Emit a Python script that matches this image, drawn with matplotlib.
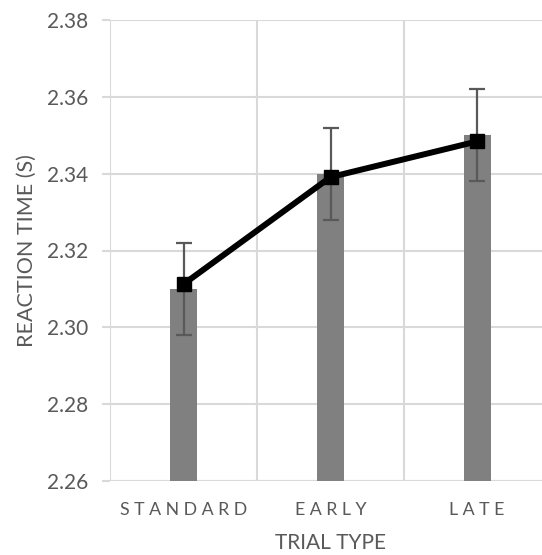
import matplotlib
matplotlib.use('agg')
import matplotlib.pyplot as plt
import numpy as np

#%% data
trial_types = ['STANDARD', 'EARLY', 'LATE']
bar_rt = [2.310, 2.340, 2.350]
bar_err = [0.012, 0.012, 0.012]
line_rt = [2.3113, 2.3391, 2.3484]
y_ticks = [2.26, 2.28, 2.30, 2.32, 2.34, 2.36, 2.38]

#%% styling
plt.rcParams['font.family'] = ['Lato', 'DejaVu Sans']
txt_col = '#595959'
grid_col = '#d9d9d9'

fig = plt.figure(figsize=(5.42, 5.55), dpi=100)
# the plot area runs a little past the right edge of the picture
ax = fig.add_axes([110.5/542, 74/555, 440/542, 461/555])

x = np.arange(len(trial_types))
ax.bar(x, [v - 2.26 for v in bar_rt], bottom=2.26, width=0.182,
       color='#808080', zorder=2)
ax.errorbar(x, bar_rt, yerr=bar_err, fmt='none', ecolor='#595959',
            elinewidth=1.6, capsize=5.5, capthick=1.6, zorder=3)
ax.plot(x, line_rt, color='black', lw=4.3, marker='s', markersize=10,
        solid_joinstyle='round', zorder=4)

ax.set_xlim(-0.5, 2.5)
ax.set_ylim(2.26, 2.38)
ax.set_yticks(y_ticks)
ax.set_yticklabels(['%.2f' % t for t in y_ticks])
ax.set_xticks(x)
ax.set_xticklabels([' '.join(t) for t in trial_types])

# gridlines: horizontal at ticks, vertical at category boundaries
ax.grid(axis='y', color=grid_col, lw=1.5, zorder=0)
for b in [-0.5, 0.5, 1.5, 2.5]:
    ax.axvline(b, color=grid_col, lw=1.5, zorder=0)

for s in ax.spines.values():
    s.set_visible(False)
ax.axhline(2.26, color=grid_col, lw=1.5, zorder=1)

ax.tick_params(axis='y', length=6, width=1.5, color=grid_col, pad=10,
               labelsize=15, labelcolor=txt_col)
ax.tick_params(axis='x', length=0, pad=15, labelsize=12.8, labelcolor=txt_col)

ax.set_xlabel('TRIAL TYPE', fontsize=15, color=txt_col, labelpad=11)
ax.set_ylabel('REACTION TIME (S)', fontsize=15.5, color=txt_col, labelpad=7)

plt.savefig('out.png', dpi=100)
plt.close()
